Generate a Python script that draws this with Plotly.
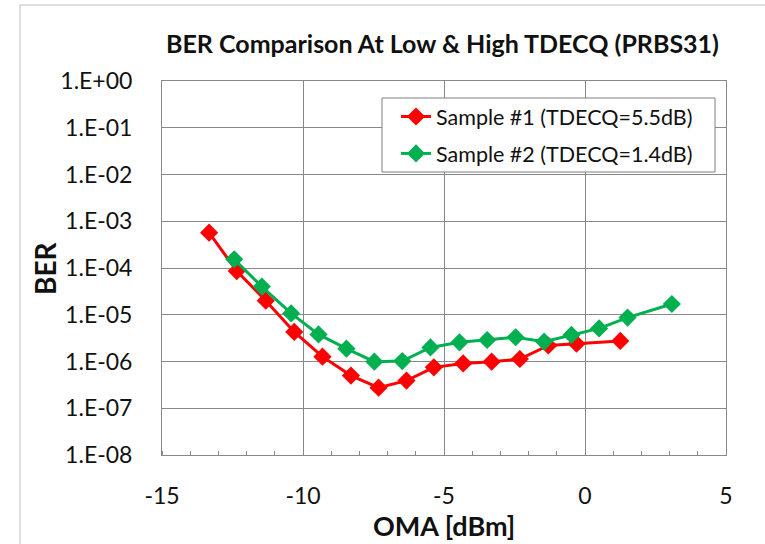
import plotly.graph_objects as go

# Data
oma_s1 = [-13.33, -12.35, -11.32, -10.31, -9.31, -8.30, -7.32, -6.33, -5.36, -4.32, -3.31, -2.31, -1.30, -0.30, 1.25]
ber_s1 = [5.7e-4, 8.6e-5, 2.0e-5, 4.3e-6, 1.27e-6, 5.0e-7, 2.75e-7, 3.9e-7, 7.5e-7, 9.1e-7, 9.9e-7, 1.13e-6, 2.2e-6, 2.4e-6, 2.75e-6]

oma_s2 = [-12.44, -11.46, -10.42, -9.45, -8.46, -7.47, -6.48, -5.48, -4.45, -3.47, -2.46, -1.45, -0.48, 0.50, 1.51, 3.08]
ber_s2 = [1.54e-4, 4.0e-5, 1.07e-5, 3.8e-6, 1.88e-6, 9.9e-7, 1.02e-6, 2.0e-6, 2.57e-6, 2.88e-6, 3.3e-6, 2.65e-6, 3.7e-6, 5.1e-6, 8.7e-6, 1.7e-5]

name_s1 = "Sample #1 (TDECQ=5.5dB)"
name_s2 = "Sample #2 (TDECQ=1.4dB)"

y_tickvals = [1e0, 1e-1, 1e-2, 1e-3, 1e-4, 1e-5, 1e-6, 1e-7, 1e-8]
y_ticktext = ["1.E+00", "1.E-01", "1.E-02", "1.E-03", "1.E-04", "1.E-05", "1.E-06", "1.E-07", "1.E-08"]
x_tickvals = [-15, -10, -5, 0, 5]
x_ticktext = ["-15", "-10", "-5", "0", "5"]

title_text = "BER Comparison At Low & High TDECQ (PRBS31)"
x_title = "OMA [dBm]"
y_title = "BER"

FONT = "Lato"
GRID = "#888888"
TXT = "#111111"

# plot area in pixels
PL, PR, PT, PB = 162, 726, 81, 455
PW, PH = PR - PL, PB - PT


def px_x(x):
    return (x - PL) / PW


def px_y(y):
    return (PB - y) / PH


fig = go.Figure()
fig.add_trace(go.Scatter(
    x=oma_s1, y=ber_s1, name=name_s1, mode="lines+markers",
    line=dict(color="#ff0000", width=3),
    marker=dict(symbol="diamond", size=14, color="#ff0000"),
    legendgroup="a",
))
fig.add_trace(go.Scatter(
    x=oma_s2, y=ber_s2, name=name_s2, mode="lines+markers",
    line=dict(color="#00b050", width=3),
    marker=dict(symbol="diamond", size=14, color="#00b050"),
    legendgroup="b",
))

fig.update_layout(
    width=765, height=544,
    margin=dict(l=PL, r=765 - PR, t=PT, b=544 - PB),
    paper_bgcolor="white", plot_bgcolor="white",
    font=dict(family=FONT, color=TXT),
    title=dict(text=title_text, x=442.5 / 765, xanchor="center", y=1 - 44 / 544, yanchor="middle",
               font=dict(family=FONT, size=25, color=TXT, weight="bold")),
    showlegend=True,
    legend=dict(x=px_x(396), y=px_y(96), xanchor="left", yanchor="top",
                bgcolor="rgba(0,0,0,0)", borderwidth=0,
                font=dict(family=FONT, size=21.5, color=TXT),
                traceorder="grouped", tracegroupgap=6),
    xaxis=dict(range=[-15, 5], tickvals=x_tickvals, ticktext=x_ticktext,
               showgrid=True, gridcolor=GRID, gridwidth=1,
               showline=True, linecolor=GRID, linewidth=1, mirror=True, zeroline=False,
               ticks="", tickfont=dict(family=FONT, size=23, color=TXT),
               ticklabelstandoff=20,
               minor=dict(dtick=1, ticks="inside", ticklen=4, tickcolor=GRID, showgrid=False)),
    yaxis=dict(type="log", range=[-8, 0], tickvals=y_tickvals, ticktext=y_ticktext,
               showgrid=True, gridcolor=GRID, gridwidth=1,
               showline=True, linecolor=GRID, linewidth=1, mirror=True, zeroline=False,
               ticks="", tickfont=dict(family=FONT, size=23, color=TXT),
               ticklabelstandoff=24),
    annotations=[
        dict(text=x_title, xref="paper", yref="paper", x=0.5, y=px_y(525),
             xanchor="center", yanchor="middle", showarrow=False,
             font=dict(family=FONT, size=27, color=TXT, weight="bold")),
        dict(text=y_title, xref="paper", yref="paper", x=px_x(45), y=px_y(268),
             xanchor="center", yanchor="middle", showarrow=False, textangle=-90,
             font=dict(family=FONT, size=28, color=TXT, weight="bold")),
    ],
    shapes=[
        dict(type="rect", xref="paper", yref="paper",
             x0=px_x(20), x1=1.2, y0=-0.3, y1=px_y(5),
             line=dict(color="#bfbfbf", width=1), fillcolor="rgba(0,0,0,0)", layer="below"),
        dict(type="rect", xref="paper", yref="paper",
             x0=px_x(382), x1=px_x(715), y0=px_y(172), y1=px_y(98),
             line=dict(color="#7f7f7f", width=1), fillcolor="white", layer="above"),
    ],
)

fig.write_html("out.html", config={"displayModeBar": False},
               post_script="document.body.style.margin='0px';")
